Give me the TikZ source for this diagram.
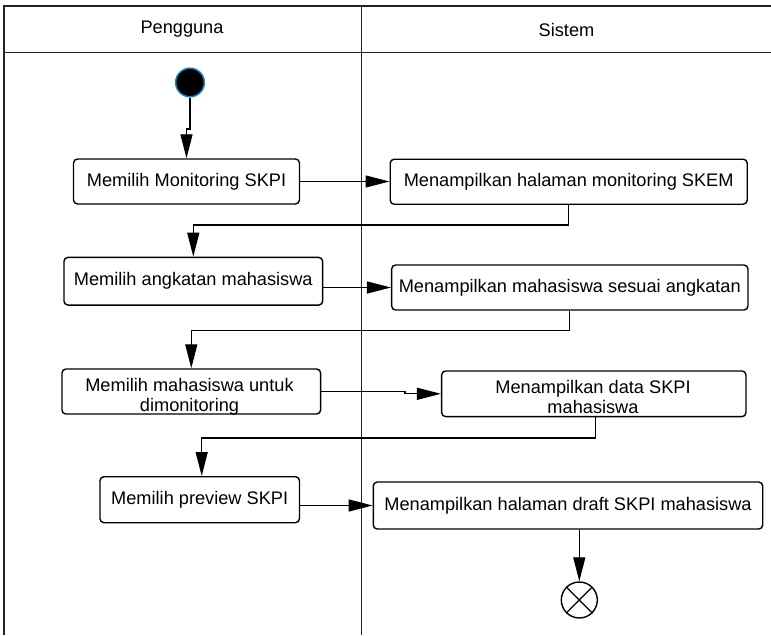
\documentclass[tikz,border=0pt]{standalone}
\usepackage{fontspec}
\setmainfont{Liberation Sans}
\usetikzlibrary{arrows.meta}
\definecolor{startrim}{RGB}{30,128,190}
\definecolor{lanegrey}{RGB}{34,34,34}
\begin{document}
\begin{tikzpicture}[x=1pt,y=-1pt,
  txt/.style={font=\fontsize{18.2}{20}\selectfont, inner sep=0pt},
  act/.style={txt, draw, line width=1.4pt, rounded corners=4pt},
  flow/.style={line width=1.3pt, -{Triangle[length=24pt,width=12pt]}},
  lane/.style={line width=1.6pt, draw=lanegrey}]
\useasboundingbox (0,0) rectangle (771,635);

% swimlane frame
\draw[lane] (4,635) -- (4,5.7) -- (771,5.7);
\draw[lane] (4,52.3) -- (771,52.3);
\draw[lane] (361.5,5.7) -- (361.5,635);
\node[txt] (lpeng) at (182,29.5) {Pengguna};
\node[txt] (lsis) at (566.5,29.5) {Sistem};

% start and end
\node[circle, fill=black, draw=startrim, line width=1.5pt, minimum size=28.6pt, inner sep=0pt] (start) at (190,82.5) {};
\node[circle, draw, line width=1.4pt, minimum size=36pt, inner sep=0pt] (end) at (579.3,600) {};
\draw[line width=1.3pt] (end.45) -- (end.225) (end.135) -- (end.315);

% actions
\node[act, minimum width=226pt, minimum height=45pt] (b1) at (186.5,181.5) {Memilih Monitoring SKPI};
\node[act, minimum width=357pt, minimum height=45pt] (b2) at (568.7,181.7) {Menampilkan halaman monitoring SKEM};
\node[act, minimum width=258.7pt, minimum height=47.7pt] (b3) at (193.3,281.2) {Memilih angkatan mahasiswa};
\node[act, minimum width=356.3pt, minimum height=45pt] (b4) at (569.8,287.5) {Menampilkan mahasiswa sesuai angkatan};
\node[act, minimum width=258.7pt, minimum height=45pt] (b5) at (191.3,391.5) {};
\node[txt, anchor=north, align=center] (b5t) at (189.5,377.7) {Memilih mahasiswa untuk\\dimonitoring};
\node[act, minimum width=304.3pt, minimum height=45.7pt] (b6) at (593.8,393.8) {};
\node[txt, anchor=north, align=center] (b6t) at (593,379.7) {Menampilkan data SKPI\\mahasiswa};
\node[act, minimum width=199.5pt, minimum height=46pt] (b7) at (199.7,499.7) {Memilih preview SKPI};
\node[act, minimum width=389.4pt, minimum height=47pt] (b8) at (568,505.5) {Menampilkan halaman draft SKPI mahasiswa};

% control flow
\draw[flow] (start.south) -- ++(0,31.5) -| (b1.north);
\draw[flow] (b1.east) -- (b1.east -| b2.west);
\draw[flow] (b2.south) -- ++(0,20) -| (b3.north);
\draw[flow] (b3.east |- b4.west) -- (b4.west);
\draw[flow] (b4.south) -- ++(0,20) -| (b5.north);
\draw[flow] (b5.east) -- ++(83.6,0) |- (b6.west);
\draw[flow] ([xshift=2pt]b6.south) -- ++(0,20.6) -| ([xshift=2pt]b7.north);
\draw[flow] (b7.east |- b8.west) -- (b8.west);
\draw[flow] (b8.south -| end) -- (end.north);
\end{tikzpicture}
\end{document}
